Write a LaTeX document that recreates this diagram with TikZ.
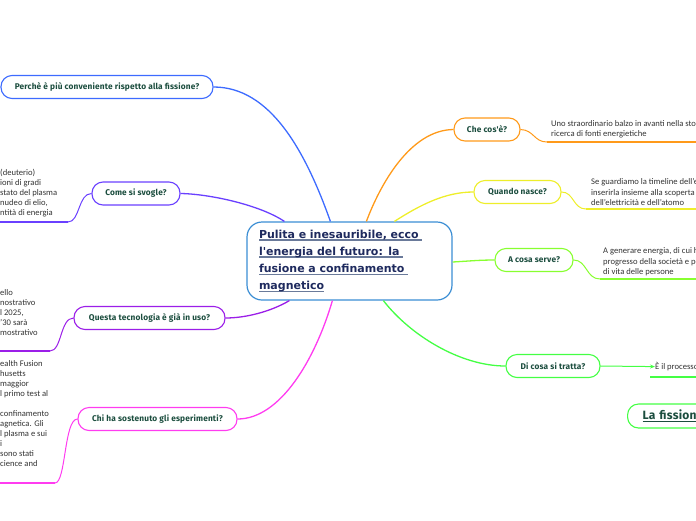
\documentclass[tikz,border=0pt]{standalone}
\usepackage{fontspec}
\setmainfont{Carlito}
\newfontfamily\labfont[LetterSpace=2]{Fira Sans}
\newfontfamily\centfont{DejaVu Sans}
\usetikzlibrary{calc,arrows.meta}
\definecolor{cblue}{HTML}{3D6BFF}
\definecolor{cindigo}{HTML}{6A40FF}
\definecolor{cpurple}{HTML}{9B1EE8}
\definecolor{cmagenta}{HTML}{FF3CF0}
\definecolor{corange}{HTML}{FF9A1A}
\definecolor{cyellow}{HTML}{EEEE2A}
\definecolor{clime}{HTML}{88FF30}
\definecolor{cgreen}{HTML}{44FF44}
\definecolor{ccentral}{HTML}{3B8ED4}
\definecolor{labtext}{HTML}{1B4D3E}
\definecolor{notetext}{HTML}{333333}
\definecolor{centtext}{HTML}{1E2A5E}
\definecolor{ulgray}{HTML}{6A7A9A}
\newlength\myulw
\newcommand\myul[2]{\leavevmode\settowidth\myulw{#2}\rlap{\textcolor{#1}{\rule[-2.6pt]{\myulw}{1.4pt}}}#2}
\begin{document}
\begin{tikzpicture}[x=1pt,y=-1pt,
  lab/.style={draw, fill=white, rounded corners=11pt, line width=1.1pt, minimum height=23pt,
    inner xsep=4pt, text=labtext, font=\labfont\bfseries\fontsize{8.3}{9}\selectfont},
  note/.style={anchor=base west, align=left, inner sep=0pt, text=notetext,
    font=\fontsize{8.6}{10}\selectfont},
  branch/.style={line width=1.3pt},
  sub/.style={line width=1pt},
  uline/.style={line width=1.5pt}]
\useasboundingbox (0,0) rectangle (696,520);
\clip (0,0) rectangle (696,520);

% central node
\node[draw=ccentral, fill=white, line width=1.2pt, rounded corners=15pt,
  minimum width=205pt, minimum height=78pt, text width=181pt, align=left,
  inner xsep=12pt, text=centtext,
  font=\centfont\bfseries\fontsize{11}{17.2}\selectfont] (c) at (349.5,261)
  {\myul{ulgray}{Pulita e inesauribile, ecco }\\
   \myul{ulgray}{l'energia del futuro: la }\\
   \myul{ulgray}{fusione a confinamento }\\
   \myul{ulgray}{magnetico}};

% branch nodes
\node[lab, draw=cblue, minimum width=212pt] (p1) at (107,87) {Perchè è più conveniente rispetto alla fissione?};
\node[lab, draw=cindigo, minimum width=88pt] (p2) at (136,193.5) {Come si svogle?};
\node[lab, draw=cpurple, minimum width=151pt] (p3) at (149.5,318) {Questa tecnologia è già in uso?};
\node[lab, draw=cmagenta, minimum width=159pt] (p4) at (157.5,419) {Chi ha sostenuto gli esperimenti?};
\node[lab, draw=corange, minimum width=66pt] (p5) at (487,129.5) {Che cos'è?};
\node[lab, draw=cyellow, minimum width=87pt] (p6) at (517.5,192) {Quando nasce?};
\node[lab, draw=clime, minimum width=78pt] (p7) at (534,260) {A cosa serve?};
\node[lab, draw=cgreen, minimum width=94pt] (p8) at (553,366) {Di cosa si tratta?};
\node[lab, draw=cgreen, minimum width=120pt, minimum height=24pt, anchor=west,
  inner xsep=15pt, text width=90pt, align=left,
  font=\labfont\bfseries\fontsize{12}{14}\selectfont] (p9) at (627,416)
  {\myul{labtext}{La fissione}};

% main connectors
\draw[branch, cblue] ($(c.north west)+(84,0)$) .. controls (305,150) and (270,87) .. (p1.east);
\draw[branch, cindigo] ($(c.north west)+(38,0)$) .. controls (260,205) and (210,194) .. (p2.east);
\draw[branch, corange] ($(c.north west)+(120,0)$) .. controls (380,185) and (410,130) .. (p5.west);
\draw[branch, cyellow] ($(c.north west)+(148,0)$) .. controls (420,205) and (445,192) .. (p6.west);
\draw[branch, clime] ($(c.east)+(0,1)$) .. controls (470,261) and (480,260) .. (p7.west);
\draw[branch, cgreen] ($(c.south west)+(137,0)$) .. controls (410,335) and (460,366) .. (p8.west);
\draw[branch, cpurple] ($(c.south west)+(43,0)$) .. controls (270,312) and (245,318) .. (p3.east);
\draw[branch, cmagenta] ($(c.south west)+(86,0)$) .. controls (315,360) and (280,419) .. (p4.east);

% note underline anchors
\coordinate (u2) at (68,222);   \coordinate (u2e) at (0,222);
\coordinate (u3) at (50,351);   \coordinate (u3e) at (0,351);
\coordinate (u4) at (55,483);   \coordinate (u4e) at (0,483);
\coordinate (u5) at (547,142);  \coordinate (u5e) at (696,142);
\coordinate (u6) at (586,209);  \coordinate (u6e) at (696,209);
\coordinate (u7) at (600,279);  \coordinate (u7e) at (696,279);
\coordinate (u8) at (650,377);  \coordinate (u8e) at (696,377);

% sub connectors and underlines
\draw[sub, cindigo] (p2.west) .. controls (78,193.5) and (80,222) .. (u2);
\draw[uline, cindigo] (u2) -- (u2e);
\draw[sub, cpurple] (p3.west) .. controls (60,318) and (62,351) .. (u3);
\draw[uline, cpurple] (u3) -- (u3e);
\draw[sub, cmagenta] (p4.west) .. controls (64,419) and (66,483) .. (u4);
\draw[uline, cmagenta] (u4) -- (u4e);
\draw[sub, corange] (p5.east) .. controls (534,130) and (534,142) .. (u5);
\draw[uline, corange] (u5) -- (u5e);
\draw[sub, cyellow] (p6.east) .. controls (574,192) and (573,209) .. (u6);
\draw[uline, cyellow] (u6) -- (u6e);
\draw[sub, clime] (p7.east) .. controls (587,260) and (586,279) .. (u7);
\draw[uline, clime] (u7) -- (u7e);
\draw[uline, cgreen] (u8) -- (u8e);

% notes (anchor = baseline of last line)
\node[note] (n2) at (0,215.5) {(deuterio)\\ioni di gradi\\stato del plasma\\ nudeo di elio,\\ntità di energia};
\node[note] (n3) at (0,335.5) {ello\\nostrativo\\l 2025,\\ '30 sarà\\mostrativo};
\node[note] (n4) at (0,466.5) {ealth Fusion\\husetts\\maggior\\l primo test al\\\mbox{}\\confinamento\\agnetica. Gli\\l plasma e sui\\i\\ sono stati\\cience and};
\node[note] (n5) at (551,136.5) {Uno straordinario balzo in avanti nella storia della\\ricerca di fonti energietiche};
\node[note, font=\fontsize{8.6}{10.5}\selectfont] (n6) at (591,205.5) {Se guardiamo la timeline dell'energia\\inserirla insieme alla scoperta del fuoco,\\dell'elettricità e dell'atomo};
\node[note, font=\fontsize{8.6}{10.5}\selectfont] (n7) at (603,274.5) {A generare energia, di cui ha bisogno il\\progresso della società e per la qualità\\di vita delle persone};
\node[note] (n8) at (655,369.5) {È il processo};

\draw[sub, cgreen, -{Stealth[length=5pt,width=4pt]}] (p8.east) -- (n8.west);
\end{tikzpicture}
\end{document}
